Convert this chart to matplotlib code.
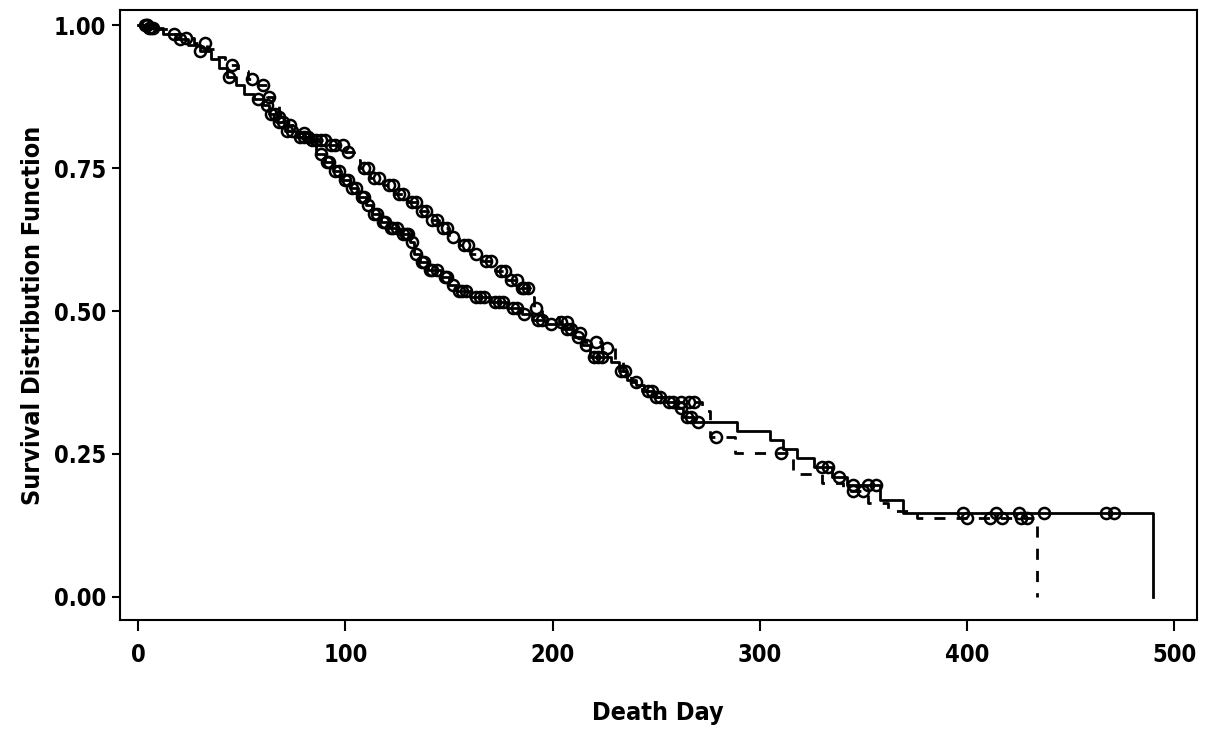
import matplotlib.pyplot as plt
import numpy as np

# Kaplan-Meier step points (day, survival after the step)
solid_days = [0, 5, 12, 18, 24, 30, 35, 39, 43, 47, 51, 56, 60, 63, 67, 71, 76, 84, 86, 90,
              94, 98, 102, 106, 110, 113, 117, 121, 126, 131, 133, 136, 140, 146, 150, 154,
              160, 170, 178, 185, 190, 197, 205, 210, 214, 218, 228, 232, 236, 240, 244, 249,
              254, 259, 263, 268, 289, 305, 311, 318, 326, 335, 342, 358, 369, 490]
solid_surv = [1.0, 0.995, 0.985, 0.975, 0.965, 0.955, 0.94, 0.925, 0.91, 0.895, 0.88, 0.87,
              0.86, 0.845, 0.83, 0.815, 0.805, 0.795, 0.775, 0.76, 0.745, 0.73, 0.715, 0.70,
              0.685, 0.67, 0.655, 0.645, 0.635, 0.62, 0.60, 0.585, 0.572, 0.56, 0.545, 0.535,
              0.525, 0.515, 0.505, 0.495, 0.485, 0.478, 0.468, 0.455, 0.44, 0.42, 0.41, 0.395,
              0.38, 0.37, 0.36, 0.35, 0.34, 0.33, 0.315, 0.305, 0.29, 0.275, 0.258, 0.242,
              0.228, 0.21, 0.195, 0.17, 0.147, 0.0]

dashed_days = [0, 8, 15, 20, 27, 33, 37, 42, 48, 53, 58, 62, 65, 68, 72, 77, 82, 92, 100, 104,
               107, 112, 118, 124, 130, 135, 140, 145, 150, 155, 160, 166, 172, 178, 184, 189,
               191, 195, 203, 210, 215, 224, 230, 234, 238, 243, 248, 255, 272, 276, 288, 316,
               330, 340, 352, 362, 376, 434]
dashed_surv = [1.0, 0.993, 0.985, 0.978, 0.968, 0.958, 0.945, 0.93, 0.92, 0.905, 0.895, 0.875,
               0.858, 0.84, 0.825, 0.812, 0.80, 0.79, 0.778, 0.765, 0.75, 0.732, 0.72, 0.705,
               0.69, 0.675, 0.66, 0.645, 0.63, 0.615, 0.60, 0.588, 0.57, 0.555, 0.54, 0.525,
               0.505, 0.49, 0.48, 0.462, 0.445, 0.435, 0.415, 0.395, 0.375, 0.36, 0.35, 0.34,
               0.325, 0.28, 0.252, 0.215, 0.2, 0.185, 0.165, 0.15, 0.138, 0.0]

# censored observations (days)
solid_censor = [4, 5, 6, 7, 20, 30, 44, 58, 62, 64, 66, 68, 70, 72, 74, 78, 80, 82, 88, 91, 92,
                95, 97, 100, 101, 103, 105, 108, 109, 111, 114, 115, 118, 119, 122, 123, 125,
                128, 129, 130, 132, 134, 137, 138, 141, 142, 144, 148, 149, 152, 155, 156, 158,
                163, 165, 167, 172, 174, 176, 181, 183, 186, 193, 195, 199, 207, 209, 212, 216,
                220, 222, 224, 233, 235, 246, 248, 252, 256, 258, 262, 265, 267, 270, 330, 333,
                338, 345, 352, 356, 398, 414, 425, 437, 467, 471]
dashed_censor = [3, 4, 17, 23, 32, 45, 55, 60, 63, 68, 73, 80, 84, 86, 88, 90, 93, 95, 99, 101,
                 109, 111, 114, 116, 121, 123, 126, 128, 132, 134, 137, 139, 142, 144, 147, 149,
                 152, 157, 159, 163, 168, 170, 175, 177, 180, 183, 185, 186, 188, 192, 204,
                 207, 213, 221, 226, 240, 250, 262, 266, 268, 279, 310, 345, 350, 400, 411,
                 417, 426, 429]

x_ticks = [0, 100, 200, 300, 400, 500]
y_ticks = [0.0, 0.25, 0.5, 0.75, 1.0]

TXT = dict(family='DejaVu Sans', stretch='condensed', fontweight='bold')


def surv_at(days, surv, t):
    idx = np.searchsorted(days, t, side='right') - 1
    return np.array(surv)[idx]


fig = plt.figure(figsize=(12.09, 7.36), dpi=100)
ax = fig.add_axes([0.099, 0.158, 0.891, 0.828])

ax.step(solid_days, solid_surv, where='post', color='black', lw=2)
ax.step(dashed_days, dashed_surv, where='post', color='black', lw=2, dashes=(4, 4))

ax.plot(solid_censor, surv_at(solid_days, solid_surv, solid_censor), 'o', ms=8,
        mfc='none', mec='black', mew=1.8)
ax.plot(dashed_censor, surv_at(dashed_days, dashed_surv, dashed_censor), 'o', ms=8,
        mfc='none', mec='black', mew=1.8)

ax.set_xlim(-9, 511)
ax.set_ylim(-0.04, 1.026)
ax.set_xticks(x_ticks)
ax.set_xticklabels([str(v) for v in x_ticks], fontsize=17, **TXT)
ax.set_yticks(y_ticks)
ax.set_yticklabels(['%.2f' % v for v in y_ticks], fontsize=17, **TXT)
ax.tick_params(axis='x', length=8, width=1.5, pad=9)
ax.tick_params(axis='y', length=6, width=1.5, pad=4)
for s in ax.spines.values():
    s.set_linewidth(1.5)

ax.set_xlabel('Death Day', fontsize=18, labelpad=24, **TXT)
ax.set_ylabel('Survival Distribution Function', fontsize=18, labelpad=6, **TXT)

plt.savefig('out.png', dpi=100)
